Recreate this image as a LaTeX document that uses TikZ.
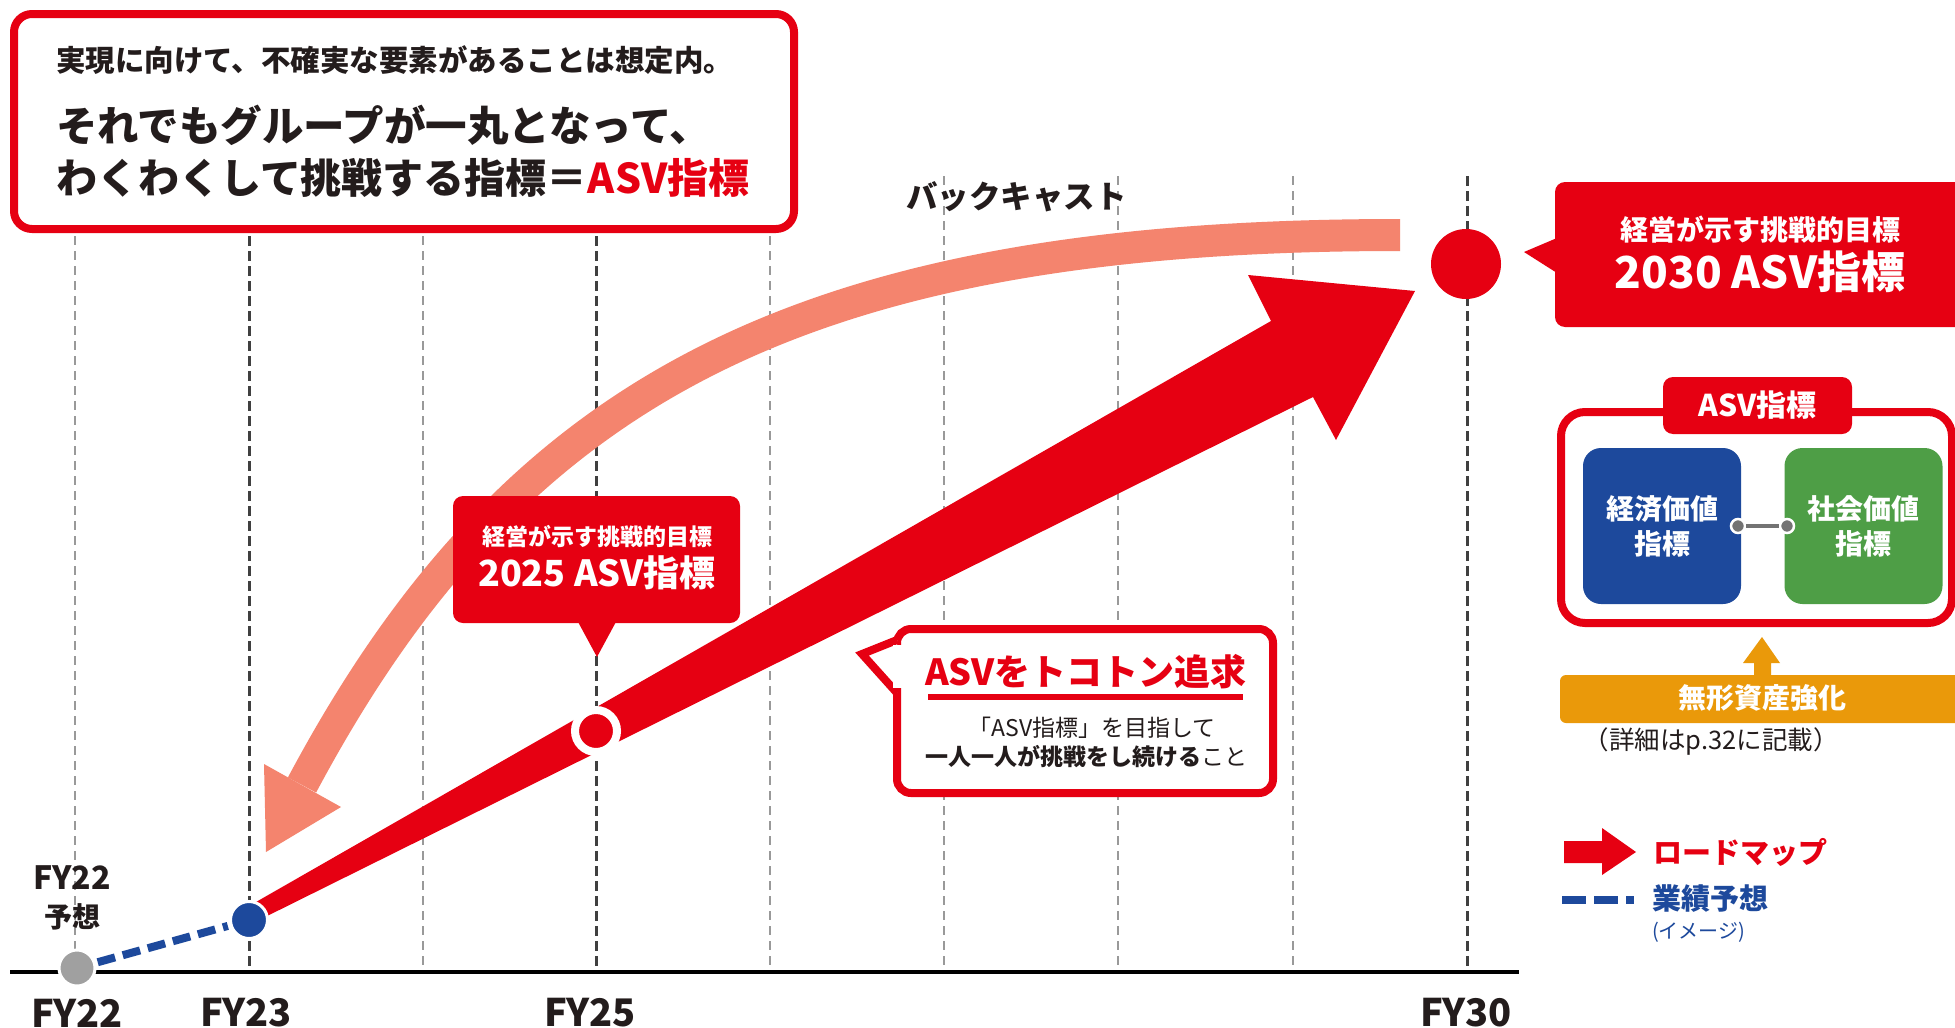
\documentclass[tikz,border=0pt]{standalone}
\usepackage{fontspec}
\setmainfont{Noto Sans CJK JP}
\definecolor{asvred}{RGB}{230,0,18}
\definecolor{salmon}{RGB}{244,132,110}
\definecolor{navy}{RGB}{29,73,156}
\definecolor{leaf}{RGB}{78,158,70}
\definecolor{gold}{RGB}{234,153,10}
\definecolor{ink}{RGB}{35,28,28}
\definecolor{dotgray}{RGB}{160,160,160}
\newcommand{\fs}[1]{\fontsize{#1}{#1}\selectfont}

\begin{document}
\begin{tikzpicture}[x=1pt,y=-1pt]
\tikzstyle{minor}= [black!40,line width=1.5pt,dash pattern=on 9pt off 6pt]
\tikzstyle{major}= [black!75,line width=3pt,dash pattern=on 10pt off 5pt]
\tikzstyle{txt}= [inner sep=0,text=ink,font=\bfseries]
\tikzstyle{wtxt}= [inner sep=0,text=white,font=\bfseries]
\tikzstyle{dot}= [circle,inner sep=0,draw=white]
\tikzstyle{redbox}= [rectangle,inner sep=0,fill=asvred,rounded corners=10pt]
\tikzstyle{card}= [rectangle,inner sep=0,minimum width=158pt,minimum height=156pt,rounded corners=18pt,align=center,text=white,font=\bfseries\fontsize{28}{35}\selectfont]

\useasboundingbox (0,0) rectangle (1955,1028);
\fill[white] (0,0) rectangle (1955,1028);

% years
\draw[minor] (75,176) -- (75,972) (423,176) -- (423,972) (770,176) -- (770,972)
  (944,176) -- (944,972) (1118,176) -- (1118,972) (1293,176) -- (1293,972);
\draw[major] (249,176) -- (249,972) (596,176) -- (596,972) (1467,176) -- (1467,972);
\draw[line width=4pt] (10,972) -- (1519,972);

\path
	(77,1013) node[txt,font=\bfseries\fs{38}] (fy22lbl) {FY22}
	(246,1013) node[txt,font=\bfseries\fs{38}] (fy23lbl) {FY23}
	(590,1013) node[txt,font=\bfseries\fs{38}] (fy25lbl) {FY25}
	(1466,1013) node[txt,font=\bfseries\fs{38}] (fy30lbl) {FY30}
	(72,878) node[txt,font=\bfseries\fs{32}] (fc22a) {FY22}
	(72,917) node[txt,font=\bfseries\fs{28}] (fc22b) {予想}
;

% message
\path (404,121.5) node[draw=asvred,line width=8pt,fill=white,rounded corners=18pt,minimum width=780pt,minimum height=215pt,inner sep=0] (msg) {};
\path
	(56,60) node[txt,anchor=west,font=\bfseries\fs{29.5}] (msg1) {実現に向けて、不確実な要素があることは想定内。}
	(56,125) node[txt,anchor=west,font=\bfseries\fs{41.5}] (msg2) {それでもグループが一丸となって、}
	(56,178) node[txt,anchor=west,font=\bfseries\fs{41}] (msg3) {わくわくして挑戦する指標＝\textcolor{asvred}{ASV指標}}
;

% backcast
\coordinate (bc0) at (1400,235);
\coordinate (bc1) at (302,785);
\draw[salmon,line width=32pt] (bc0) .. controls (800,235) and (513,389) .. (bc1);
\fill[salmon] (264,764) -- (266,852) -- (341,807) -- cycle;
\node[txt,anchor=west,font=\bfseries\fs{31.5}] (bcl) at (906,197) {バックキャスト};

% 2025
\path (596.5,559.5) node[redbox,minimum width=287pt,minimum height=127pt] (c25) {};
\fill[asvred] (577,620) -- (617,620) -- (597,657) -- cycle;
\path
	(597,537) node[wtxt,font=\bfseries\fs{23}] (c25a) {経営が示す挑戦的目標}
	(597,573) node[wtxt,font=\bfseries\fs{36}] (c25b) {2025 ASV指標}
;

% roadmap
\fill[asvred] (249,906) -- (1271,321) -- (1248,275) -- (1415,291) -- (1336,440) -- (1313,397) -- (249,925) -- cycle;

\path
	(77,968) node[dot,fill=dotgray,line width=3pt,minimum size=36pt] (fy22) {}
	(249,920) node[dot,fill=navy,line width=3pt,minimum size=37pt] (fy23) {}
	(596,731) node[dot,fill=asvred,line width=8pt,minimum size=42pt] (fy25) {}
	(1466,264) node[dot,fill=asvred,draw=none,minimum size=70pt] (fy30) {}
;
\draw[navy,line width=8pt,dash pattern=on 18pt off 8pt,shorten <=2pt,shorten >=2pt] (fy22) -- (fy23);

% ASV callout
\path (1085,711) node[draw=asvred,line width=8pt,fill=white,rounded corners=14pt,minimum width=376pt,minimum height=164pt,inner sep=0] (chase) {};
\filldraw[fill=white,draw=asvred,line width=8pt,line join=miter] (897,640) -- (862,654) -- (897,693);
\fill[white] (893,645) rectangle (903,688);
\path
	(1086,672) node[inner sep=0,text=asvred,font=\bfseries\fs{36}] (chase1) {ASVをトコトン追求}
	(1092,728) node[inner sep=0,text=ink,font=\fs{23}] (chase2) {「ASV指標」を目指して}
	(1086,757) node[inner sep=0,text=ink,font=\fs{23}] (chase3) {\textbf{一人一人が挑戦をし続ける}こと}
;
\draw[asvred,line width=6pt] (928,697) -- (1243,697);

% 2030
\path (1765,254.5) node[redbox,minimum width=420pt,minimum height=145pt] (c30) {};
\fill[asvred] (1557,238) -- (1524,252) -- (1557,273) -- cycle;
\path
	(1760,230) node[wtxt,font=\bfseries\fs{28}] (c30a) {経営が示す挑戦的目標}
	(1760,272) node[wtxt,font=\bfseries\fs{44}] (c30b) {2030 ASV指標}
;

% ASV panel
\path (1756.5,517.5) node[draw=asvred,line width=8pt,rounded corners=24pt,minimum width=391pt,minimum height=211pt,inner sep=0] (panel) {};
\path (1757.5,405.5) node[redbox,minimum width=189pt,minimum height=57pt,text=white,font=\bfseries\fs{30}] (tab) {ASV指標};
\path
	(1662,526) node[card,fill=navy] (econ) {経済価値\\指標}
	(1863.5,526) node[card,fill=leaf] (social) {社会価値\\指標}
	(1738,526) node[dot,fill=black!55,line width=2.5pt,minimum size=14pt] (pinA) {}
	(1787,526) node[dot,fill=black!55,line width=2.5pt,minimum size=14pt] (pinB) {}
;
\draw[black!55,line width=4pt] (pinA) -- (pinB);

\path (1775,699) node[fill=gold,rounded corners=6pt,minimum width=430pt,minimum height=48pt,inner sep=0] (intang) {};
\fill[gold] (1754,676) -- (1754,663) -- (1743,663) -- (1762,637) -- (1780,663) -- (1771,663) -- (1771,676) -- cycle;
\path
	(1762,698) node[wtxt,font=\bfseries\fs{28}] (intang1) {無形資産強化}
	(1711,741) node[inner sep=0,text=ink,font=\fs{25.5}] (note) {（詳細はp.32に記載）}
;

% legend
\fill[asvred] (1564,841) -- (1602,841) -- (1602,828) -- (1636,852) -- (1602,875) -- (1602,863) -- (1564,863) -- cycle;
\draw[navy,line width=8pt,dash pattern=on 24pt off 8pt] (1562,900) -- (1634,900);
\path
	(1653,852) node[anchor=west,inner sep=0,text=asvred,font=\bfseries\fs{29}] (lgroad) {ロードマップ}
	(1652,899) node[anchor=west,inner sep=0,text=navy,font=\bfseries\fs{29}] (lgfc) {業績予想}
	(1652,932) node[anchor=west,inner sep=0,text=navy,font=\fs{20}] (lgimg) {(イメージ)}
;
\end{tikzpicture}
\end{document}
